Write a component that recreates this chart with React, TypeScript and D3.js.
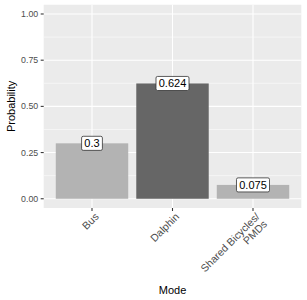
import { useMemo } from "react";
import * as d3 from "d3";

const modes = ["Bus", "Dalphin", "Shared Bicycles/\nPMDs"];
const probabilities = [0.3, 0.624, 0.075];
const valueLabels = ["0.3", "0.624", "0.075"];
const yTicks = [0, 0.25, 0.5, 0.75, 1];
const yMinor = [0.125, 0.375, 0.625, 0.875];

const FILL: Record<string, string> = {
  Bus: "#B3B3B3",
  Dalphin: "#666666",
  "Shared Bicycles/\nPMDs": "#B3B3B3",
};

const W = 307;
const H = 300;
const FONT = "'Liberation Sans', Arial, sans-serif";
const panel = { left: 43.7, right: 301.3, top: 4.75, bottom: 208 };

function textWidth(s: string, size: number) {
  const ctx = document.createElement("canvas").getContext("2d");
  if (!ctx) return s.length * size * 0.55;
  ctx.font = `${size}px ${FONT}`;
  return ctx.measureText(s).width;
}

export default function App() {
  const x = useMemo(
    () => d3.scalePoint<string>().domain(modes).range([panel.left, panel.right]).padding(0.6),
    [],
  );
  const y = useMemo(
    () => d3.scaleLinear().domain([-0.05, 1.05]).range([panel.bottom, panel.top]),
    [],
  );
  const bw = x.step() * 0.9;
  const labelSize = 11;
  const pad = 2.75;
  const xTextSize = 10.5;

  return (
    <div style={{ position: "absolute", left: 0, top: 0 }}>
      <svg width={W} height={H} style={{ display: "block", background: "#fff" }} fontFamily={FONT}>
        <rect
          x={panel.left}
          y={panel.top}
          width={panel.right - panel.left}
          height={panel.bottom - panel.top}
          fill="#EBEBEB"
        />
        {yMinor.map((t) => (
          <line key={"m" + t} x1={panel.left} x2={panel.right} y1={y(t)} y2={y(t)} stroke="#fff" strokeWidth={0.53} />
        ))}
        {yTicks.map((t) => (
          <line key={"g" + t} x1={panel.left} x2={panel.right} y1={y(t)} y2={y(t)} stroke="#fff" strokeWidth={1.07} />
        ))}
        {modes.map((m) => (
          <line key={"v" + m} x1={x(m)} x2={x(m)} y1={panel.top} y2={panel.bottom} stroke="#fff" strokeWidth={1.07} />
        ))}

        {modes.map((m, i) => (
          <rect
            key={"b" + m}
            x={x(m)! - bw / 2}
            y={y(probabilities[i])}
            width={bw}
            height={y(0) - y(probabilities[i])}
            fill={FILL[m]}
          />
        ))}

        {modes.map((m, i) => {
          const tw = textWidth(valueLabels[i], labelSize);
          const cx = x(m)!;
          const cy = y(probabilities[i]);
          const bh = labelSize * 0.78 + pad * 2;
          return (
            <g key={"l" + m}>
              <rect
                x={cx - tw / 2 - pad}
                y={cy - bh / 2}
                width={tw + pad * 2}
                height={bh}
                rx={1.6}
                fill="#fff"
                stroke="#333"
                strokeWidth={0.8}
              />
              <text x={cx} y={cy + labelSize * 0.36} textAnchor="middle" fontSize={labelSize} fill="#000">
                {valueLabels[i]}
              </text>
            </g>
          );
        })}

        {/* y axis */}
        {yTicks.map((t) => (
          <g key={"yt" + t}>
            <line x1={panel.left - 3} x2={panel.left} y1={y(t)} y2={y(t)} stroke="#333" strokeWidth={1.07} />
            <text x={panel.left - 5.5} y={y(t) + 3.1} textAnchor="end" fontSize={8.8} fill="#4D4D4D">
              {d3.format(".2f")(t)}
            </text>
          </g>
        ))}

        {/* x axis */}
        {modes.map((m) => {
          const lines = m.split("\n");
          return (
            <g key={"xt" + m}>
              <line x1={x(m)} x2={x(m)} y1={panel.bottom} y2={panel.bottom + 3} stroke="#333" strokeWidth={1.07} />
              <g transform={`translate(${x(m)! + 2},${panel.bottom + 4}) rotate(-45)`}>
                <text textAnchor="end" fontSize={xTextSize} fill="#4D4D4D">
                  {lines.map((ln, k) => (
                    <tspan key={k} x={0} dy={k === 0 ? "0.72em" : "1.0em"}>
                      {ln}
                    </tspan>
                  ))}
                </text>
              </g>
            </g>
          );
        })}

        <text
          transform={`translate(15,${(panel.top + panel.bottom) / 2}) rotate(-90)`}
          textAnchor="middle"
          fontSize={11}
          fill="#000"
        >
          Probability
        </text>
        <text x={(panel.left + panel.right) / 2} y={294} textAnchor="middle" fontSize={11} fill="#000">
          Mode
        </text>
      </svg>
    </div>
  );
}
